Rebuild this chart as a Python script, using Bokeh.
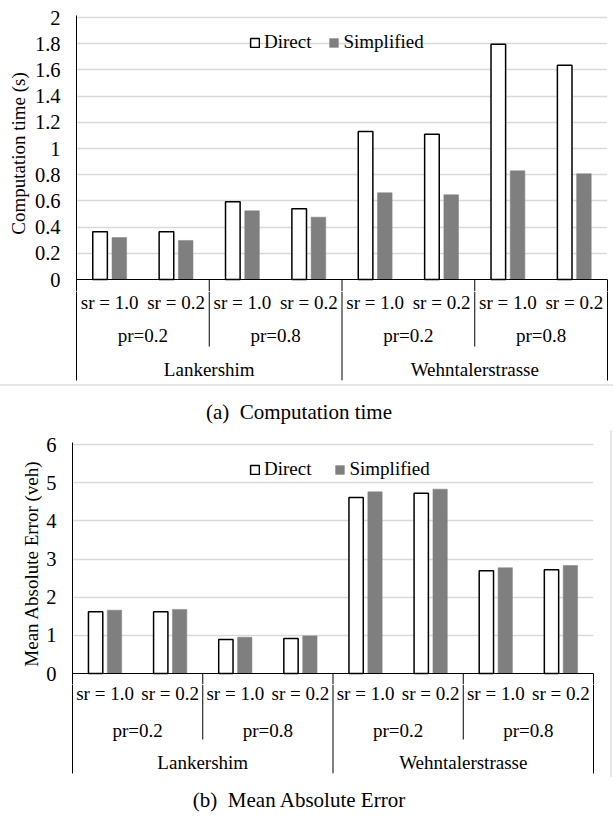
from bokeh.plotting import figure
from bokeh.models import (FactorRange, Range1d, FixedTicker, LinearAxis, Legend,
                          LegendItem, Span, ColumnDataSource, Div)
from bokeh.transform import dodge
from bokeh.layouts import column, row
from bokeh.core.properties import value
from bokeh.embed import file_html
from bokeh.resources import INLINE

# ---------------- data ----------------
SITES = ["Lankershim", "Wehntalerstrasse"]
PRS = ["pr=0.2", "pr=0.8"]
SRS = ["sr = 1.0", "sr = 0.2"]
SERIES = ["Direct", "Simplified"]

TIME_DIRECT = [0.364, 0.364, 0.593, 0.54, 1.13, 1.109, 1.796, 1.636]
TIME_SIMPLIFIED = [0.32, 0.298, 0.524, 0.476, 0.662, 0.647, 0.83, 0.807]
MAE_DIRECT = [1.62, 1.62, 0.89, 0.92, 4.61, 4.72, 2.69, 2.72]
MAE_SIMPLIFIED = [1.66, 1.68, 0.95, 0.985, 4.76, 4.83, 2.77, 2.83]

TIME_TICKS = [0, 0.2, 0.4, 0.6, 0.8, 1, 1.2, 1.4, 1.6, 1.8, 2]
TIME_TICK_LABELS = ["0", "0.2", "0.4", "0.6", "0.8", "1", "1.2", "1.4", "1.6", "1.8", "2"]
MAE_TICKS = [0, 1, 2, 3, 4, 5, 6]
MAE_TICK_LABELS = ["0", "1", "2", "3", "4", "5", "6"]

TIME_YLABEL = "Computation time (s)"
MAE_YLABEL = "Mean Absolute Error (veh)"
CAPTION_A = "(a)&nbsp; Computation time"
CAPTION_B = "(b)&nbsp; Mean Absolute Error"

# ---------------- style ----------------
FONT = "Liberation Serif"
W = 613
GRID = "#d9d9d9"
GRAY = "#7f7f7f"
FRAME_GRAY = "#e6e6e6"


def bare_axis(**kw):
    return LinearAxis(ticker=FixedTicker(ticks=[]), major_label_text_font_size="0px",
                      major_tick_line_color=None, minor_tick_line_color=None,
                      major_tick_out=0, minor_tick_out=0, major_label_standoff=0,
                      axis_line_color="black", axis_line_width=1, **kw)


def make_chart(direct, simpl, ticks, tick_labels, ylabel, *, width, left, right, top,
               span_px, ext, label_h, rows, legend_xy, legend_spacing, title_standoff):
    ymax = ticks[-1]
    px_unit = span_px / ymax
    start = -ext / px_unit
    end = ymax + 2.0 / px_unit
    factors = [(s, p, r) for s in SITES for p in PRS for r in SRS]
    xr = FactorRange(*factors, factor_padding=0, subgroup_padding=0,
                     group_padding=0, range_padding=0)

    p = figure(width=width, height=top + 2 + span_px + ext, x_range=xr,
               y_range=Range1d(start, end),
               output_backend="svg", toolbar_location=None, x_axis_location=None,
               min_border_left=left, min_border_right=right, min_border_top=top,
               min_border_bottom=0, outline_line_color=None)
    p.xgrid.visible = False
    p.ygrid.ticker = FixedTicker(ticks=ticks[1:])
    p.ygrid.grid_line_color = GRID
    p.ygrid.grid_line_width = 1.5

    ax = p.yaxis[0]
    ax.ticker = FixedTicker(ticks=ticks)
    ax.major_label_overrides = dict(zip(ticks, tick_labels))
    ax.axis_line_color = "black"
    ax.axis_line_width = 1
    ax.major_tick_line_color = None
    ax.minor_tick_line_color = None
    ax.major_tick_out = 0
    ax.minor_tick_out = 0
    ax.major_label_standoff = 16
    ax.major_label_text_font = FONT
    ax.major_label_text_font_size = "20.5px"
    ax.major_label_text_color = "black"
    ax.axis_label = ylabel
    ax.axis_label_text_font = FONT
    ax.axis_label_text_font_size = "19px"
    ax.axis_label_text_font_style = "normal"
    ax.axis_label_text_color = "black"
    ax.axis_label_standoff = title_standoff
    p.add_layout(bare_axis(bounds=(start, 0)), "right")

    src = ColumnDataSource(dict(x=factors, direct=direct, simpl=simpl))
    r1 = p.vbar(x=dodge("x", -0.145, range=xr), top="direct", width=0.22, bottom=0,
                source=src, fill_color="white", line_color="black", line_width=1.5)
    r2 = p.vbar(x=dodge("x", 0.145, range=xr), top="simpl", width=0.22, bottom=0,
                source=src, fill_color=GRAY, line_color=GRAY, line_width=0.5)
    p.add_layout(Span(location=0, dimension="width", line_color="black", line_width=1.2))

    legend = Legend(items=[LegendItem(label=SERIES[0], renderers=[r1]),
                           LegendItem(label=SERIES[1], renderers=[r2])],
                    location=legend_xy, orientation="horizontal",
                    border_line_color=None, background_fill_alpha=0,
                    padding=0, margin=0, spacing=legend_spacing, label_standoff=4,
                    glyph_width=11, glyph_height=11, label_height=20,
                    label_text_font=FONT, label_text_font_size="19px",
                    label_text_color="black")
    p.add_layout(legend)

    # ---- category label box below the bars ----
    pb = figure(width=width, height=label_h - ext + 4, x_range=xr,
                y_range=Range1d(-label_h, -ext),
                output_backend="svg", toolbar_location=None, x_axis_location=None,
                y_axis_location=None, min_border_left=left, min_border_right=right,
                min_border_top=0, min_border_bottom=4, outline_line_color=None)
    pb.grid.visible = False
    pb.add_layout(bare_axis(), "left")
    pb.add_layout(bare_axis(), "right")

    sr_y, pr_y, prsep_y, site_y = rows
    # separators between groups (start in the bar figure, continue in the box)
    sep_x = [(s, PRS[1], SRS[0]) for s in SITES] + [(SITES[1], PRS[0], SRS[0])]
    sep_y = [-prsep_y, -prsep_y, -label_h]
    p.segment(x0=dodge("x", -0.5, range=xr), x1=dodge("x", -0.5, range=xr), y0=0, y1=start,
              source=ColumnDataSource(dict(x=sep_x)), line_color="black", line_width=1)
    pb.segment(x0=dodge("x", -0.5, range=xr), x1=dodge("x", -0.5, range=xr), y0=-ext, y1="y1",
               source=ColumnDataSource(dict(x=sep_x, y1=sep_y)),
               line_color="black", line_width=1)

    txt = dict(text_font=value(FONT), text_font_size=value("19px"), text_align="center",
               text_baseline="middle", text_color="black")
    pb.text(x="x", y=-sr_y, text="t",
            source=ColumnDataSource(dict(x=factors, t=[f[2] for f in factors])), **txt)
    pr_x = [(s, p_, SRS[0]) for s in SITES for p_ in PRS]
    pb.text(x=dodge("x", 0.5, range=xr), y=-pr_y, text="t",
            source=ColumnDataSource(dict(x=pr_x, t=[f[1] for f in pr_x])), **txt)
    site_x = [(s, PRS[0], SRS[1]) for s in SITES]
    pb.text(x=dodge("x", 0.5, range=xr), y=-site_y, text="t",
            source=ColumnDataSource(dict(x=site_x, t=[f[0] for f in site_x])), **txt)
    return p, pb


def caption(text, height, top_pad, border):
    outer = ("position:relative;width:%dpx;height:%dpx;box-sizing:border-box;%s"
             % (W, height, ("border-top:2px solid %s;" % FRAME_GRAY) if border else ""))
    inner = ("position:absolute;left:0;top:%dpx;width:598px;text-align:center;"
             "font-family:'Liberation Serif';font-size:21px;line-height:24px;color:#000;"
             "white-space:nowrap;" % top_pad)
    html = '<div style="%s"><div style="%s">%s</div></div>' % (outer, inner, text)
    return Div(text=html, width=W, height=height, margin=0)


p1, p1b = make_chart(TIME_DIRECT, TIME_SIMPLIFIED, TIME_TICKS, TIME_TICK_LABELS, TIME_YLABEL,
                     width=W, left=76, right=6, top=15, span_px=262, ext=12, label_h=101,
                     rows=(22.7, 56, 67, 90.3), legend_xy=(173, 238), legend_spacing=17,
                     title_standoff=3)
p2, p2b = make_chart(MAE_DIRECT, MAE_SIMPLIFIED, MAE_TICKS, MAE_TICK_LABELS, MAE_YLABEL,
                     width=610, left=72, right=17, top=12, span_px=229, ext=11, label_h=100,
                     rows=(20, 57, 66, 88.7), legend_xy=(177, 204), legend_spacing=23,
                     title_standoff=1)

cap_a = caption(CAPTION_A, 46, 14, True)
cap_b = caption(CAPTION_B, 44, 11, False)

bottom_h = p2.height + p2b.height
edge = Div(text="", width=2, height=bottom_h, margin=0,
           styles={"background-color": FRAME_GRAY})
bottom = row(column(p2, p2b, spacing=0), edge, spacing=0)

layout = column(p1, p1b, cap_a, bottom, cap_b, spacing=0)
open("out.html", "w").write(file_html(layout, INLINE))
